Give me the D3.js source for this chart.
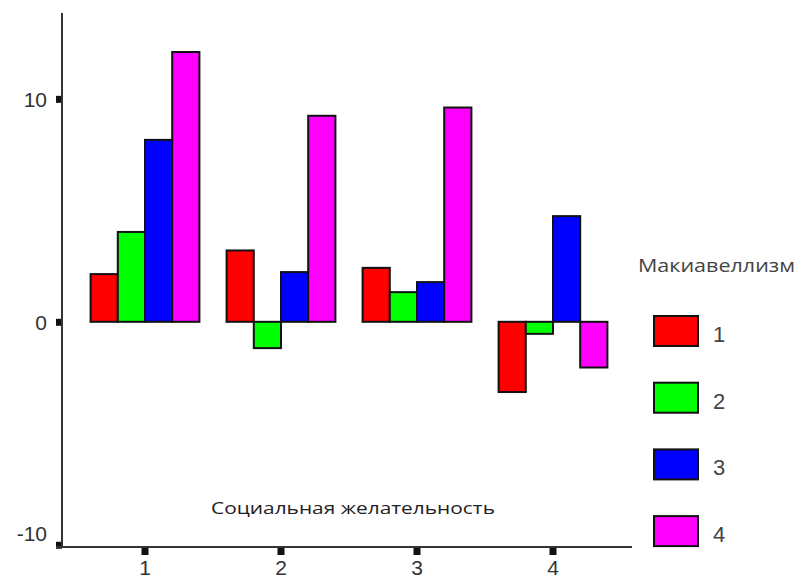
<!DOCTYPE html>
<html><head><meta charset="utf-8">
<script src="https://cdn.jsdelivr.net/npm/d3@7"></script>
<style>html,body{margin:0;padding:0;background:#fff}svg{display:block}</style>
</head><body>
<svg id="c" width="797" height="578"></svg>
<script>
const categories = ["1", "2", "3", "4"];
const seriesNames = ["1", "2", "3", "4"];
const series1 = [2.14, 3.2, 2.42, -3.15];
const series2 = [4.03, -1.18, 1.33, -0.54];
const series3 = [8.16, 2.23, 1.78, 4.74];
const series4 = [12.1, 9.24, 9.61, -2.05];
const seriesValues = [series1, series2, series3, series4];
const colors = ["#ff0000", "#00ff00", "#0000ff", "#ff00ff"];
const yTicks = [-10, 0, 10];
const xTitle = "Социальная желательность";
const legendTitle = "Макиавеллизм";

const svg = d3.select("#c");
const font = "'Open Sans', 'DejaVu Sans', sans-serif";
const numFont = "'Liberation Sans', Arial, sans-serif";

const y = d3.scaleLinear().domain([-10.1, 13.85]).range([547, 13]);
const x0 = d3.scaleBand().domain(categories).range([77, 621]).paddingInner(0.2).paddingOuter(0.1);
const x1 = d3.scaleBand().domain(seriesNames).range([0, x0.bandwidth()]);

const axisLeftX = 62, axisBottomY = 547, axisRight = 632;

// bars
seriesNames.forEach((s, si) => {
  svg.append("g").selectAll("rect")
    .data(categories.map((c, ci) => ({c, v: seriesValues[si][ci]})))
    .join("rect")
    .attr("x", d => x0(d.c) + x1(s))
    .attr("y", d => y(Math.max(0, d.v)))
    .attr("width", x1.bandwidth())
    .attr("height", d => Math.abs(y(d.v) - y(0)))
    .attr("fill", colors[si])
    .attr("stroke", "#111")
    .attr("stroke-width", 2);
});

// y axis
const yAxis = d3.axisLeft(y).tickValues(yTicks).tickSize(0).tickPadding(15).tickFormat(d => String(d));
const gy = svg.append("g").attr("transform", `translate(${axisLeftX},0)`).call(yAxis);
gy.select(".domain").remove();
gy.selectAll("text").attr("font-family", numFont).attr("font-size", 21).attr("fill", "#333")
  .attr("dy", d => d === -10 ? "-0.2em" : "0.36em");
gy.selectAll(".tick").append("rect").attr("x", -6).attr("y", -3.5).attr("width", 6).attr("height", 7).attr("fill", "#111");
svg.append("line").attr("x1", axisLeftX).attr("x2", axisLeftX).attr("y1", 13).attr("y2", axisBottomY)
  .attr("stroke", "#333").attr("stroke-width", 2);

// x axis
const xAxis = d3.axisBottom(x0).tickSize(0).tickPadding(13);
const gx = svg.append("g").attr("transform", `translate(0,${axisBottomY})`).call(xAxis);
gx.select(".domain").remove();
gx.selectAll("text").attr("font-family", numFont).attr("font-size", 21).attr("fill", "#333");
gx.selectAll(".tick").append("rect").attr("x", -3.5).attr("y", 0).attr("width", 7).attr("height", 8).attr("fill", "#111");
svg.append("line").attr("x1", axisLeftX - 6).attr("x2", axisRight).attr("y1", axisBottomY).attr("y2", axisBottomY)
  .attr("stroke", "#333").attr("stroke-width", 2);

// x title
svg.append("text").attr("x", 353).attr("y", 514).attr("text-anchor", "middle")
  .attr("font-family", font).attr("font-size", 17).attr("fill", "#222")
  .attr("textLength", 284).attr("lengthAdjust", "spacingAndGlyphs").text(xTitle);

// legend
svg.append("text").attr("x", 638).attr("y", 272)
  .attr("font-family", font).attr("font-size", 18).attr("fill", "#444")
  .attr("textLength", 157).attr("lengthAdjust", "spacingAndGlyphs").text(legendTitle);
const lg = svg.append("g").selectAll("g").data(seriesNames).join("g")
  .attr("transform", (d, i) => `translate(654,${316 + i * 66.7})`);
lg.append("rect").attr("width", 44).attr("height", 30)
  .attr("fill", (d, i) => colors[i]).attr("stroke", "#111").attr("stroke-width", 2);
lg.append("text").attr("x", 59).attr("y", 26).attr("font-family", numFont).attr("font-size", 22)
  .attr("fill", "#444").text(d => d);
</script>
</body></html>
